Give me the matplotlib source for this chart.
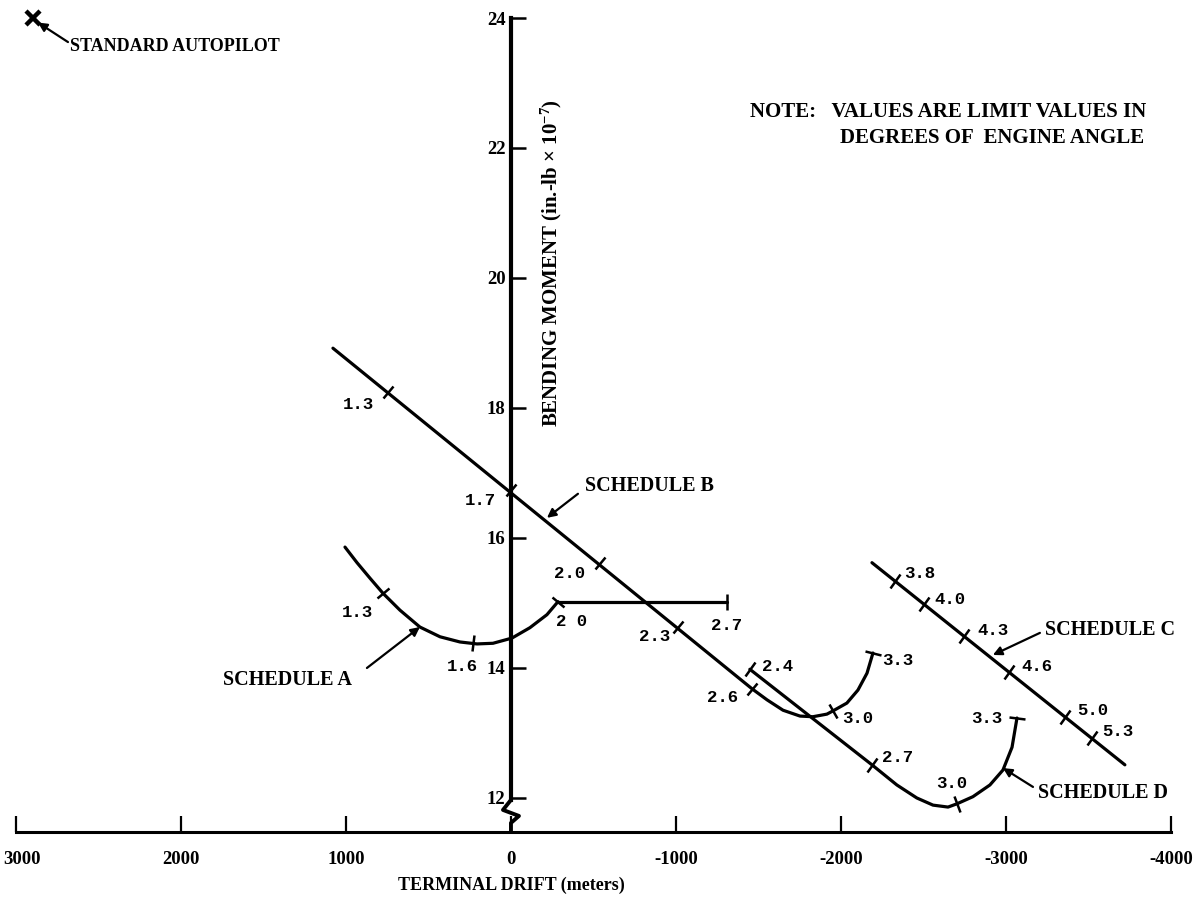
import numpy as np
import matplotlib
matplotlib.use("Agg")
import matplotlib.pyplot as plt
from matplotlib.markers import MarkerStyle
from matplotlib.transforms import Affine2D, ScaledTranslation

SERIF = "Liberation Serif"
MONO = "Liberation Mono"
plt.rcParams["font.family"] = [SERIF, "DejaVu Serif"]
plt.rcParams["font.weight"] = "bold"
plt.rcParams["mathtext.fontset"] = "custom"
plt.rcParams["mathtext.rm"] = "Liberation Serif:bold"
plt.rcParams["mathtext.it"] = "Liberation Serif:bold"
plt.rcParams["mathtext.bf"] = "Liberation Serif:bold"

# ---- data: terminal drift (m) vs bending moment (in.-lb x 1e-7) ----
drift_ticks = [3000, 2000, 1000, 0, -1000, -2000, -3000, -4000]
drift_labels = ["3000", "2000", "1000", "0", "-1000", "-2000", "-3000", "-4000"]
moment_ticks = [12, 14, 16, 18, 20, 22, 24]

# Schedule A: curve then flat run
sched_a_x = [1006, 933, 854, 776, 673, 552, 430, 309, 206, 109, -6, -115, -218, -285]
sched_a_y = [15.86, 15.62, 15.38, 15.15, 14.89, 14.63, 14.48, 14.40, 14.37, 14.38,
             14.46, 14.62, 14.82, 15.02]
sched_a_flat_x = [-285, -1310]
sched_a_flat_y = [15.02, 15.02]
sched_a_tick_x = [776, 230, -285]
sched_a_tick_y = [15.15, 14.38, 15.02]
sched_a_tick_lbl = ["1.3", "1.6", "2 0"]
sched_a_flat_tick_x = [-1310]
sched_a_flat_tick_y = [15.02]
sched_a_flat_tick_lbl = ["2.7"]

# Schedule B: straight run then hook
sched_b_x = [1079, -1461, -1552, -1649, -1752, -1830, -1915, -1952, -2036, -2103, -2158, -2194]
sched_b_y = [18.92, 13.68, 13.51, 13.35, 13.26, 13.25, 13.29, 13.34, 13.46, 13.66, 13.92, 14.23]
sched_b_tick_x = [745, 0, -539, -1012, -1461, -1952, -2194]
sched_b_tick_y = [18.25, 16.74, 15.62, 14.63, 13.68, 13.34, 14.23]
sched_b_tick_lbl = ["1.3", "1.7", "2.0", "2.3", "2.6", "3.0", "3.3"]

# Schedule C: straight
sched_c_x = [-2188, -3721]
sched_c_y = [15.62, 12.51]
sched_c_tick_x = [-2327, -2503, -2746, -3018, -3358, -3521]
sched_c_tick_y = [15.34, 14.98, 14.49, 13.94, 13.25, 12.92]
sched_c_tick_lbl = ["3.8", "4.0", "4.3", "4.6", "5.0", "5.3"]

# Schedule D: straight run then hook
sched_d_x = [-1448, -2188, -2339, -2460, -2558, -2649, -2703, -2800, -2903, -2982, -3037, -3067]
sched_d_y = [13.98, 12.51, 12.20, 12.00, 11.89, 11.86, 11.91, 12.02, 12.20, 12.43, 12.78, 13.23]
sched_d_tick_x = [-1448, -2188, -2703, -3067]
sched_d_tick_y = [13.98, 12.51, 11.91, 13.23]
sched_d_tick_lbl = ["2.4", "2.7", "3.0", "3.3"]

std_autopilot = (2897, 24.0)

# ---- figure ----
fig = plt.figure(figsize=(11.95, 9.06), dpi=100)
ax = fig.add_axes([0, 0, 1, 1])
ax.set_xlim(3097, -4146)
ax.set_ylim(10.338, 24.277)
ax.patch.set_visible(False)

for side in ("top", "right"):
    ax.spines[side].set_visible(False)
x_axis_y = 11.48
ax.spines["bottom"].set_position(("data", x_axis_y))
ax.spines["bottom"].set_bounds(-4000, 3000)
ax.spines["bottom"].set_linewidth(2.2)
ax.spines["left"].set_position(("data", 0))
ax.spines["left"].set_bounds(11.97, 24)
ax.spines["left"].set_linewidth(3.0)

ax.set_xticks(drift_ticks)
ax.set_yticks(moment_ticks)
ax.set_yticklabels([str(v) for v in moment_ticks])
ax.tick_params(axis="x", direction="in", length=11.5, width=1.6, labelbottom=False)
ax.tick_params(axis="y", direction="in", length=11, width=1.8, pad=4, labelsize=13.5)
for lbl in ax.get_yticklabels():
    lbl.set_fontweight("bold")
    lbl.set_family(SERIF)

# drift tick labels set just under the axis line (outermost one kept inside the frame)
xlab_trans = ax.get_xaxis_transform()
x_axis_frac = (x_axis_y - ax.get_ylim()[0]) / (ax.get_ylim()[1] - ax.get_ylim()[0])
for i, (v, s) in enumerate(zip(drift_ticks, drift_labels)):
    tr = xlab_trans
    if i == 0:
        tr = xlab_trans + ScaledTranslation(4 / 72, 0, fig.dpi_scale_trans)
    ax.text(v, x_axis_frac, s, transform=tr + ScaledTranslation(0, -14 / 72, fig.dpi_scale_trans),
            family=SERIF, fontweight="bold", fontsize=13.5, ha="center", va="top")

# axis break on the moment axis
anchor = ax.transData.transform((0, 11.97))
base = ax.transData.transform((0, x_axis_y))
brk = np.array([[0, 0], [-8, -10], [8, -16], [0, -23]]) + anchor
brk = np.vstack([brk, [anchor[0], base[1]]])
ax.plot(brk[:, 0], brk[:, 1], transform=None, color="black", lw=2.8,
        solid_joinstyle="round", solid_capstyle="round")

line_kw = dict(color="black", lw=2.3, solid_capstyle="round", solid_joinstyle="round")
ax.plot(sched_a_x, sched_a_y, **line_kw)
ax.plot(sched_a_flat_x, sched_a_flat_y, **line_kw)
ax.plot(sched_b_x, sched_b_y, **line_kw)
ax.plot(sched_c_x, sched_c_y, **line_kw)
ax.plot(sched_d_x, sched_d_y, **line_kw)


def tick_marks(tx, ty, cx, cy, size=12):
    pts = ax.transData.transform(np.column_stack([cx, cy]))
    for x, y in zip(tx, ty):
        p = ax.transData.transform((x, y))
        best = None
        for i in range(len(pts) - 1):
            a, b = pts[i], pts[i + 1]
            d = b - a
            t = np.clip(np.dot(p - a, d) / np.dot(d, d), 0, 1)
            dist = np.linalg.norm(a + t * d - p)
            if best is None or dist < best[0] - 1e-9:
                best = (dist, d)
        ang = np.degrees(np.arctan2(best[1][1], best[1][0]))
        mk = MarkerStyle("|", transform=Affine2D().rotate_deg(ang))
        ax.plot([x], [y], linestyle="none", marker=mk, ms=size, mew=1.8, color="black")


tick_marks(sched_a_tick_x, sched_a_tick_y, sched_a_x, sched_a_y)
tick_marks(sched_a_flat_tick_x, sched_a_flat_tick_y, sched_a_flat_x, sched_a_flat_y)
tick_marks(sched_b_tick_x, sched_b_tick_y, sched_b_x, sched_b_y)
tick_marks(sched_c_tick_x, sched_c_tick_y, sched_c_x, sched_c_y)
tick_marks(sched_d_tick_x, sched_d_tick_y, sched_d_x, sched_d_y)

# value labels beside the tick marks
val_kw = dict(family=MONO, fontweight="bold", fontsize=12.5, ha="center", va="center")
label_pos = {
    "a": ([933, 297, -370], [14.85, 14.03, 14.71]),
    "af": ([-1309], [14.66]),
    "b": ([927, 188, -358, -873, -1285, -2103, -2346],
          [18.05, 16.57, 15.46, 14.48, 13.55, 13.23, 14.12]),
    "c": ([-2479, -2661, -2921, -3188, -3527, -3679],
          [15.46, 15.06, 14.58, 14.02, 13.35, 13.02]),
    "d": ([-1618, -2346, -2673, -2885], [14.03, 12.62, 12.23, 13.23]),
}
for key, lbls in (("a", sched_a_tick_lbl), ("af", sched_a_flat_tick_lbl),
                  ("b", sched_b_tick_lbl), ("c", sched_c_tick_lbl), ("d", sched_d_tick_lbl)):
    xs, ys = label_pos[key]
    for x, y, s in zip(xs, ys, lbls):
        ax.text(x, y, s, **val_kw)

# schedule names with pointer arrows
arrow_kw = dict(arrowstyle="-|>", lw=1.6, color="black", mutation_scale=13,
                shrinkA=0, shrinkB=0)
name_kw = dict(family=SERIF, fontweight="bold", fontsize=14.5, ha="left", va="center")
ax.text(1746, 13.82, "SCHEDULE A", **name_kw)
ax.annotate("", xy=(552, 14.63), xytext=(873, 14.0), arrowprops=arrow_kw)
ax.text(-449, 16.80, "SCHEDULE B", **name_kw)
ax.annotate("", xy=(-218, 16.31), xytext=(-406, 16.68), arrowprops=arrow_kw)
ax.text(-3237, 14.58, "SCHEDULE C", **name_kw)
ax.annotate("", xy=(-2921, 14.20), xytext=(-3206, 14.54), arrowprops=arrow_kw)
ax.text(-3194, 12.08, "SCHEDULE D", **name_kw)
ax.annotate("", xy=(-2982, 12.46), xytext=(-3164, 12.17), arrowprops=arrow_kw)

# standard autopilot point
ax.plot([std_autopilot[0]], [std_autopilot[1]], linestyle="none", marker="x",
        ms=10, mew=3.2, color="black", clip_on=False)
ax.annotate("", xy=(2867, 23.93), xytext=(2685, 23.63), arrowprops=arrow_kw)
ax.text(2673, 23.56, "STANDARD AUTOPILOT", family=SERIF, fontweight="bold",
        fontsize=13, ha="left", va="center")

# note
ax.text(-1449, 22.55, "NOTE:   VALUES ARE LIMIT VALUES IN", family=SERIF,
        fontweight="bold", fontsize=15, ha="left", va="center")
ax.text(-1994, 22.15, "DEGREES OF  ENGINE ANGLE", family=SERIF,
        fontweight="bold", fontsize=15, ha="left", va="center")

# axis titles
ax.text(-248, 20.23, r"BENDING MOMENT (in.-lb $\times$ 10$^{-7}$)", family=SERIF,
        fontweight="bold", fontsize=15, rotation=90, ha="center", va="center")
ax.text(0, 10.66, "TERMINAL DRIFT (meters)", family=SERIF, fontweight="bold",
        fontsize=13, ha="center", va="center")

fig.savefig("out.png", dpi=100, facecolor="white")
